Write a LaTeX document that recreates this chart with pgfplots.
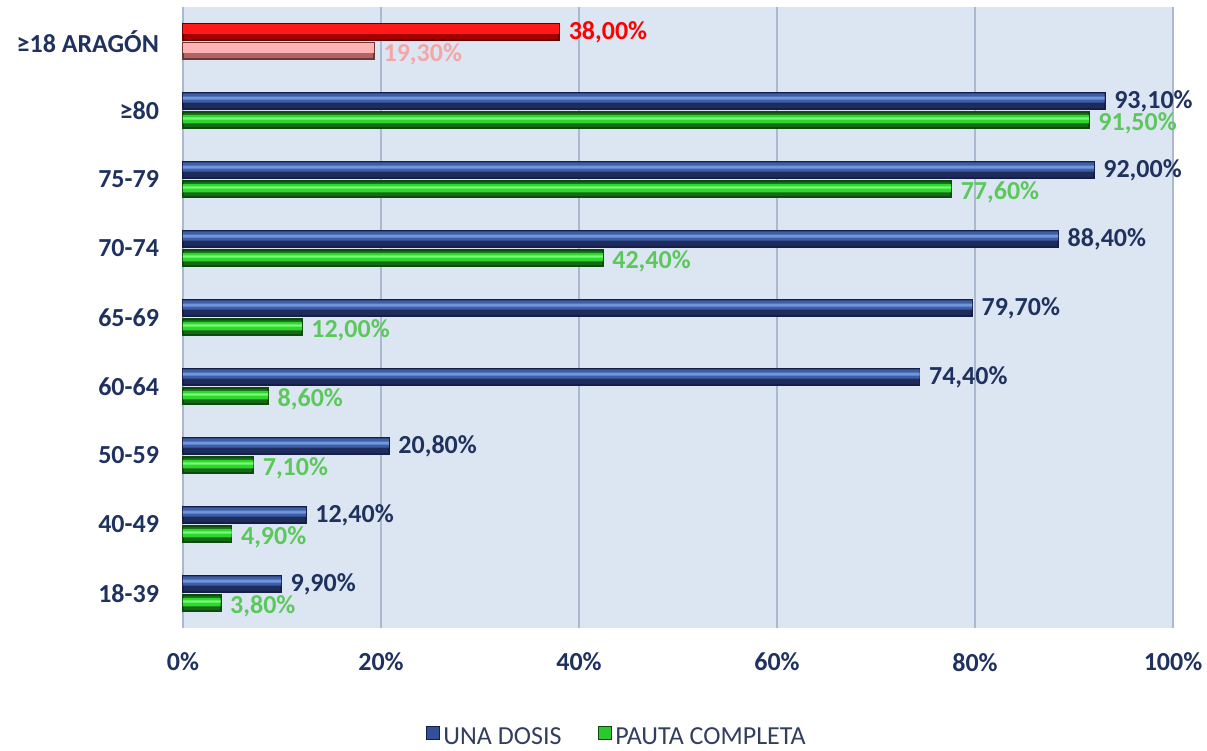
\documentclass[border=0pt]{standalone}
\usepackage{pgfplots}
\pgfplotsset{compat=1.18}
\usepackage{pgfplotstable}
\usepackage{fontspec}
\setmainfont{Carlito}
\definecolor{navy}{RGB}{31,50,95}
\definecolor{lblgreen}{RGB}{92,200,92}
\definecolor{lblpink}{RGB}{244,166,166}
\definecolor{bgblue}{RGB}{220,230,242}
\definecolor{gridc}{RGB}{170,185,205}
\definecolor{legtext}{RGB}{50,62,95}
\definecolor{bTop}{RGB}{62,95,168}
\definecolor{bMid}{RGB}{115,150,218}
\definecolor{bBot}{RGB}{30,44,92}
\definecolor{bDraw}{RGB}{20,30,70}
\definecolor{gTop}{RGB}{45,215,45}
\definecolor{gMid}{RGB}{120,250,120}
\definecolor{gBot}{RGB}{22,105,22}
\definecolor{gDraw}{RGB}{12,75,12}
\definecolor{rTop}{RGB}{255,25,25}
\definecolor{rBot}{RGB}{165,0,0}
\definecolor{rDraw}{RGB}{100,0,0}
\definecolor{pTop}{RGB}{255,178,178}
\definecolor{pBot}{RGB}{178,100,100}
\definecolor{pDraw}{RGB}{110,55,55}
\definecolor{legBfill}{RGB}{50,80,155}
\definecolor{legGfill}{RGB}{45,200,45}

\pgfplotstableread{
y x lab
0 9.9 9,90\%
1 12.4 12,40\%
2 20.8 20,80\%
3 74.4 74,40\%
4 79.7 79,70\%
5 88.4 88,40\%
6 92.0 92,00\%
7 93.1 93,10\%
}\unadosis
\pgfplotstableread{
y x lab
0 3.8 3,80\%
1 4.9 4,90\%
2 7.1 7,10\%
3 8.6 8,60\%
4 12.0 12,00\%
5 42.4 42,40\%
6 77.6 77,60\%
7 91.5 91,50\%
}\pauta
\pgfplotstableread{
y x lab
8 38.0 38,00\%
}\aragonuna
\pgfplotstableread{
y x lab
8 19.3 19,30\%
}\aragonpauta

\begin{document}
\begin{tikzpicture}
\begin{axis}[
  at={(0,0)}, anchor=south west,
  scale only axis,
  width=495pt, height=310.5pt,
  xmin=0, xmax=100,
  ymin=-0.5, ymax=8.5,
  clip=false,
  axis background/.style={fill=bgblue},
  axis line style={draw=none},
  major tick length=0pt,
  xmajorgrids,
  grid style={gridc, line width=0.6pt},
  xtick={0,20,40,60,80,100},
  xticklabels={0\%,20\%,40\%,60\%,80\%,100\%},
  ytick={0,1,2,3,4,5,6,7,8},
  yticklabels={18-39,40-49,50-59,60-64,65-69,70-74,75-79,≥80,≥18 ARAGÓN},
  ticklabel style={font=\fontsize{13}{15}\selectfont\bfseries, text=navy},
  xticklabel style={yshift=-9pt},
  yticklabel style={xshift=-8.5pt},
  xbar,
  legend style={at={(0.439,-0.177)}, anchor=center, draw=none, fill=none,
    legend columns=2, font=\fontsize{13}{15}\selectfont, text=legtext,
    /tikz/every even column/.append style={column sep=16pt}},
  legend cell align=left,
]
\addlegendimage{legend image code/.code={\filldraw[draw=bDraw, fill=legBfill] (0pt,-0.5pt) rectangle (6.5pt,6pt);}}
\addlegendentry{UNA DOSIS}
\addlegendimage{legend image code/.code={\filldraw[draw=gDraw, fill=legGfill] (0pt,-0.5pt) rectangle (6.5pt,6pt);}}
\addlegendentry{PAUTA COMPLETA}

% UNA DOSIS: base bar with label, then highlight bands
\addplot[forget plot, bar width=8pt, bar shift=4.75pt, draw=bDraw, line width=0.9pt, fill=bBot,
  point meta=explicit symbolic, nodes near coords,
  nodes near coords style={anchor=west, xshift=1pt, text=navy, font=\fontsize{13}{15}\selectfont\bfseries}]
  table[x=x, y=y, meta=lab] {\unadosis};
\addplot[forget plot, bar width=4.6pt, bar shift=6.3pt, draw=none, fill=bTop]
  table[x=x, y=y] {\unadosis};
\addplot[forget plot, bar width=1.4pt, bar shift=6.2pt, draw=none, fill=bMid]
  table[x=x, y=y] {\unadosis};

% PAUTA COMPLETA
\addplot[forget plot, bar width=8pt, bar shift=-4.75pt, draw=gDraw, line width=0.9pt, fill=gBot,
  point meta=explicit symbolic, nodes near coords,
  nodes near coords style={anchor=west, xshift=1pt, yshift=-1.5pt, text=lblgreen, font=\fontsize{13}{15}\selectfont\bfseries}]
  table[x=x, y=y, meta=lab] {\pauta};
\addplot[forget plot, bar width=4.2pt, bar shift=-4.3pt, draw=none, fill=gTop]
  table[x=x, y=y] {\pauta};
\addplot[forget plot, bar width=1.2pt, bar shift=-4.0pt, draw=none, fill=gMid]
  table[x=x, y=y] {\pauta};

% ARAGON
\addplot[forget plot, bar width=8pt, bar shift=4.75pt, draw=rDraw, line width=0.9pt, fill=rBot,
  point meta=explicit symbolic, nodes near coords,
  nodes near coords style={anchor=west, xshift=1pt, text=red, font=\fontsize{13}{15}\selectfont\bfseries}]
  table[x=x, y=y, meta=lab] {\aragonuna};
\addplot[forget plot, bar width=5pt, bar shift=6.25pt, draw=none, fill=rTop]
  table[x=x, y=y] {\aragonuna};
\addplot[forget plot, bar width=8pt, bar shift=-4.75pt, draw=pDraw, line width=0.9pt, fill=pBot,
  point meta=explicit symbolic, nodes near coords,
  nodes near coords style={anchor=west, xshift=1pt, yshift=-1.5pt, text=lblpink, font=\fontsize{13}{15}\selectfont\bfseries}]
  table[x=x, y=y, meta=lab] {\aragonpauta};
\addplot[forget plot, bar width=5pt, bar shift=-3.25pt, draw=none, fill=pTop]
  table[x=x, y=y] {\aragonpauta};
\end{axis}
\pgfresetboundingbox
\path[use as bounding box] (-91.5pt,-61.5pt) rectangle (512pt,314pt);
\end{tikzpicture}
\end{document}
